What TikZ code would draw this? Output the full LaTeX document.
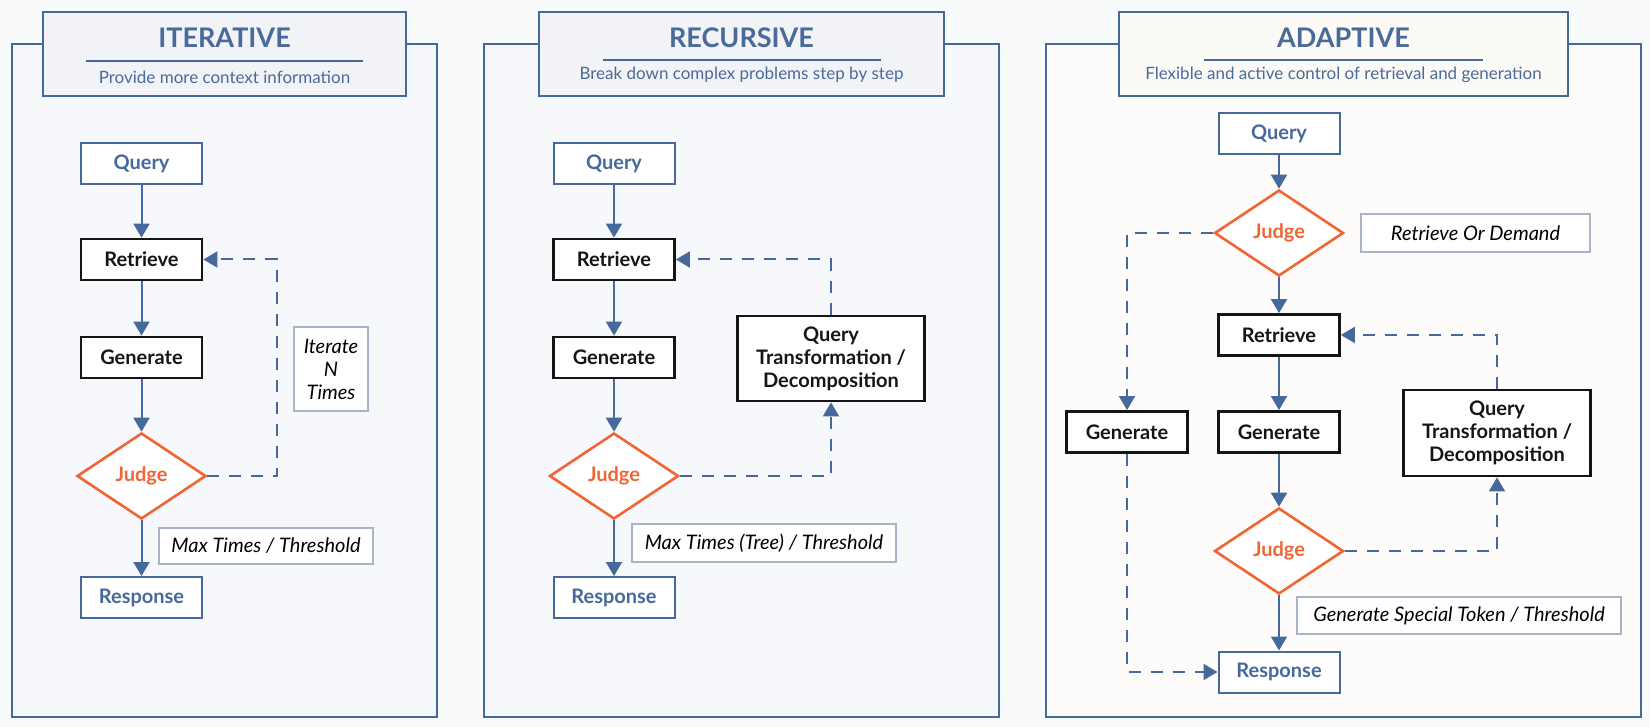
\documentclass[tikz,border=0pt]{standalone}
\usepackage{fontspec}
\setmainfont{Lato}
\usetikzlibrary{shapes.geometric,arrows.meta}
\definecolor{bl}{HTML}{46699B}
\definecolor{tblue}{HTML}{4A6A99}
\definecolor{org}{HTML}{F06435}
\definecolor{lbc}{HTML}{A9B4C8}
\definecolor{bgc}{HTML}{F9FAFC}
\definecolor{pfill}{HTML}{F7F8FB}
\definecolor{afill}{HTML}{FDFCFA}
\definecolor{tfill}{HTML}{F2F3F7}
\definecolor{atfill}{HTML}{FCFAF6}
\definecolor{ink}{HTML}{151515}
\begin{document}
\begin{tikzpicture}[x=0.5pt,y=-0.5pt,
  box/.style={draw, fill=white, minimum width=60.5pt, minimum height=20.5pt, inner sep=0pt, font=\fontsize{10}{12}\selectfont\bfseries},
  bbox/.style={box, draw=ink, line width=1.4pt, text=ink},
  ubox/.style={box, draw=bl, line width=1pt, text=bl},
  judge/.style={diamond, draw=org, line width=1.3pt, fill=white, minimum width=64.5pt, minimum height=43pt, inner sep=0pt, text=org, font=\fontsize{10}{12}\selectfont\bfseries},
  lab/.style={draw=lbc, line width=1pt, fill=white, inner sep=0pt, font=\fontsize{10}{11.5}\selectfont\itshape},
  conn/.style={draw=bl, line width=1pt, -{Triangle[width=8pt,length=7pt]}},
  dconn/.style={conn, dash pattern=on 6pt off 5pt},
  panel/.style={draw=bl, line width=1.1pt},
  tbox/.style={draw=bl, line width=1.3pt, inner sep=0pt, minimum height=42pt},
  ttl/.style={text=tblue, font=\fontsize{13.5}{15}\selectfont\bfseries},
  sub/.style={text=tblue, font=\fontsize{8.5}{10}\selectfont},
  uline/.style={draw=bl, line width=1.2pt},
]
\useasboundingbox[fill=bgc] (0,0) rectangle (1650,727);

% ================= ITERATIVE =================
\draw[panel, fill=pfill] (12,44) rectangle (437,717);
\node[tbox, fill=tfill, minimum width=181.5pt] (t1) at (224.5,54) {};
\node[ttl] (t1a) at (224.5,38) {ITERATIVE};
\draw[uline] (86,61) -- (363,61);
\node[sub] (t1b) at (224.5,77) {Provide more context information};

\node[ubox] (q1) at (141.5,163.5) {Query};
\node[bbox] (r1) at (141.5,259.5) {Retrieve};
\node[bbox] (g1) at (141.5,357.5) {Generate};
\node[judge] (j1) at (141.5,476) {Judge};
\node[ubox] (s1) at (141.5,597.5) {Response};
\node[lab, minimum width=107pt, minimum height=18pt] (l1) at (266,546) {Max Times / Threshold};
\node[lab, minimum width=37pt, minimum height=42pt, align=center] (l1b) at (331,369) {Iterate\\N\\Times};
\coordinate (c1a) at (277,476);
\coordinate (c1b) at (277,259.5);
\draw[conn] (q1) -- (r1);
\draw[conn] (r1) -- (g1);
\draw[conn] (g1) -- (j1);
\draw[conn] (j1) -- (s1);
\draw[dconn] (j1.east) -- (c1a) -- (c1b) -- (r1.east);

% ================= RECURSIVE =================
\draw[panel, fill=pfill] (484,44) rectangle (999,717);
\node[tbox, fill=tfill, minimum width=202.5pt] (t2) at (741.5,54) {};
\node[ttl] (t2a) at (741.5,38) {RECURSIVE};
\draw[uline] (603,60) -- (881,60);
\node[sub] (t2b) at (741.5,75) {Break down complex problems step by step};

\node[ubox] (q2) at (614,163.5) {Query};
\node[bbox] (r2) at (614,259.5) {Retrieve};
\node[bbox] (g2) at (614,357.5) {Generate};
\node[judge] (j2) at (614,476) {Judge};
\node[ubox] (s2) at (614,597.5) {Response};
\node[bbox, minimum width=93.5pt, minimum height=42.5pt, align=center, font=\fontsize{10}{11.5}\selectfont\bfseries] (qt2) at (831,358.5) {Query\\Transformation /\\Decomposition};
\node[lab, minimum width=132pt, minimum height=19pt] (l2) at (764,543) {Max Times (Tree) / Threshold};
\coordinate (c2a) at (831,476);
\coordinate (c2b) at (831,259.5);
\draw[conn] (q2) -- (r2);
\draw[conn] (r2) -- (g2);
\draw[conn] (g2) -- (j2);
\draw[conn] (j2) -- (s2);
\draw[dconn] (qt2.north) -- (c2b) -- (r2.east);
\draw[dconn] (j2.east) -- (c2a) -- (qt2.south);

% ================= ADAPTIVE =================
\draw[panel, fill=afill] (1046,44) rectangle (1641,717);
\node[tbox, fill=atfill, minimum width=224.5pt] (t3) at (1343.5,54) {};
\node[ttl] (t3a) at (1343.5,38) {ADAPTIVE};
\draw[uline] (1204,60) -- (1483,60);
\node[sub] (t3b) at (1343.5,75) {Flexible and active control of retrieval and generation};

\node[ubox] (q3) at (1279,133.5) {Query};
\node[judge] (j3a) at (1279,233) {Judge};
\node[lab, minimum width=114.5pt, minimum height=19pt] (l3a) at (1475.5,233) {Retrieve Or Demand};
\node[bbox] (r3) at (1279,335) {Retrieve};
\node[bbox] (gL) at (1127,432) {Generate};
\node[bbox] (g3) at (1279,432) {Generate};
\node[bbox, minimum width=93.5pt, minimum height=43pt, align=center, font=\fontsize{10}{11.5}\selectfont\bfseries] (qt3) at (1497,433) {Query\\Transformation /\\Decomposition};
\node[judge] (j3b) at (1279,551) {Judge};
\node[lab, minimum width=162pt, minimum height=18.5pt] (l3b) at (1459,615.5) {Generate Special Token / Threshold};
\node[ubox] (s3) at (1279,672) {Response};
\coordinate (c3a) at (1127,233);
\coordinate (c3b) at (1127,672);
\coordinate (c3c) at (1497,335);
\coordinate (c3d) at (1497,551);
\draw[conn] (q3) -- (j3a);
\draw[conn] (j3a) -- (r3);
\draw[conn] (r3) -- (g3);
\draw[conn] (g3) -- (j3b);
\draw[conn] (j3b) -- (s3);
\draw[dconn] (j3a.west) -- (c3a) -- (gL.north);
\draw[dconn] (gL.south) -- (c3b) -- (s3.west);
\draw[dconn] (qt3.north) -- (c3c) -- (r3.east);
\draw[dconn] (j3b.east) -- (c3d) -- (qt3.south);
\end{tikzpicture}
\end{document}
